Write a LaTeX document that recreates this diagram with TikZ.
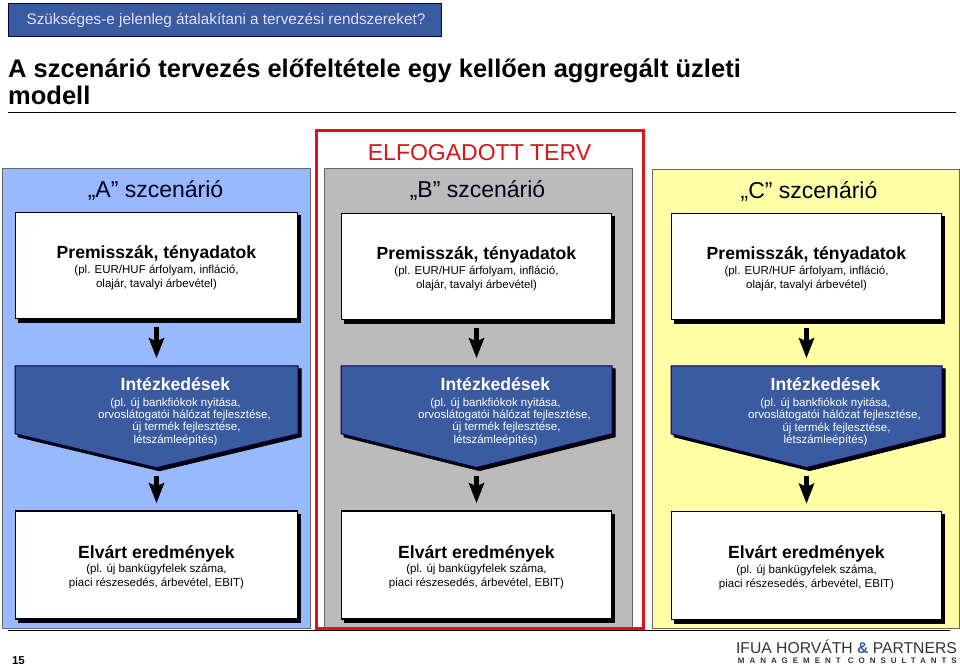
\documentclass[tikz,border=0pt]{standalone}
\usepackage{fontspec}
\setmainfont{Liberation Sans}
\newfontfamily\logofont[LetterSpace=62]{Liberation Sans}
\usetikzlibrary{arrows.meta, positioning, shadows, shapes.symbols}

\definecolor{panelblue}{HTML}{99B9FF}
\definecolor{panelgrey}{HTML}{BBBBBB}
\definecolor{panelyellow}{HTML}{FFFFA6}
\definecolor{actblue}{HTML}{3A5BA0}
\definecolor{okred}{HTML}{D9141A}

\newcommand{\premtext}{\frenchspacing\rule{0pt}{17pt}{\fontsize{17.6}{18}\selectfont\bfseries Premisszák, tényadatok}\\[0.5pt]
	(pl. EUR/HUF árfolyam, infláció,\\ olajár, tavalyi árbevétel)}
\newcommand{\acttext}{\frenchspacing{\fontsize{17.6}{18}\selectfont\bfseries Intézkedések}\\[3.5pt]
	(pl. új bankfiókok nyitása,\\
	\hspace*{18pt}orvoslátogatói hálózat fejlesztése,\\
	\hspace*{22pt}új termék fejlesztése,\\
	létszámleépítés)}
\newcommand{\restext}{\frenchspacing\rule{0pt}{17pt}{\fontsize{17.6}{18}\selectfont\bfseries Elvárt eredmények}\\[0.5pt]
	(pl. új bankügyfelek száma,\\ piaci részesedés, árbevétel, EBIT)}

\begin{document}
\begin{tikzpicture} [
						x=1pt, y=-1pt,
						node distance=46pt,
						panel/.style={draw=black!60, line width=1pt, minimum width=308pt, minimum height=460pt, inner sep=0pt},
						whitebox/.style={draw=black, fill=white, line width=1.5pt, minimum width=282pt, minimum height=106pt, inner sep=0pt, align=center,
							font=\fontsize{11.5}{14}\selectfont, copy shadow={shadow xshift=3pt, shadow yshift=-3.5pt, fill=black, draw=black}},
						actbox/.style={signal, signal to=south, signal pointer angle=153, draw=black!70!blue, fill=actblue, line width=1pt,
							minimum width=283pt, minimum height=68pt, inner sep=0pt, copy shadow={shadow xshift=3pt, shadow yshift=-3pt, fill=black, draw=black}},
						acttxt/.style={text=white, align=center, inner sep=0pt, font=\fontsize{11.5}{12.3}\selectfont},
						scenhead/.style={font=\fontsize{23}{28}\selectfont, text=black!90!blue},
						blockarrow/.style={draw=black, line width=4.5pt, -{Stealth[length=20pt, width=15pt, inset=3pt]}, shorten <=8pt, shorten >=7pt}
					]

\useasboundingbox (0,0) rectangle (960,666);

% question and title
\node (question) [draw=black!70!blue, fill=actblue, line width=1pt, minimum width=433pt, minimum height=33pt, inner sep=0pt,
	text=white!88!blue, font=\fontsize{15.3}{18}\selectfont] at (225,20.5) {\hspace*{2pt}Szükséges-e jelenleg átalakítani a tervezési rendszereket?};
\node (title) [anchor=north west, inner sep=0pt, align=left, font=\fontsize{25.5}{27.5}\selectfont\bfseries] at (8,58.5)
	{A szcenárió tervezés előfeltétele egy kellően aggregált üzleti\\ modell};
\coordinate (ruleL) at (8,113);
\coordinate (ruleR) at (956,113);
\draw [line width=1pt] (ruleL) -- (ruleR);

% panels
\node (panelA) [panel, fill=panelblue] at (156,398) {};
\node (panelB) [panel, fill=panelgrey] at (478,398) {};
\node (panelC) [panel, fill=panelyellow, minimum width=307pt, minimum height=459pt] at (805.5,398.5) {};

\node (accepted) [draw=okred, line width=3pt, minimum width=327pt, minimum height=498pt, inner sep=0pt] at (479.5,379.5) {};
\node (acceptedtxt) [text=okred, font=\fontsize{23}{28}\selectfont] at (479.5,153) {ELFOGADOTT TERV};

\node (headA) [scenhead] at (155.5,191) {„A” szcenárió};
\node (headB) [scenhead] at (477.5,191) {„B” szcenárió};
\node (headC) [scenhead] at (809,192) {„C” szcenárió};

% column A
\node (premA) [whitebox] at (156.5,265.5) {\premtext};
\node (actA) [actbox, below=46pt of premA] {};
\node (actAtxt) [acttxt, below=12pt of actA.north, xshift=19pt] {\acttext};
\node (resA) [whitebox, minimum height=108pt] at (156.5,565) {\restext};

% column B
\node (premB) [whitebox, minimum width=270pt] at (476.5,266.5) {\premtext};
\node (actB) [actbox, minimum width=271pt, signal pointer angle=152, below=45pt of premB] {};
\node (actBtxt) [acttxt, below=12pt of actB.north, xshift=19pt] {\acttext};
\node (resB) [whitebox, minimum width=270pt, minimum height=108pt] at (476.5,565) {\restext};

% column C
\node (premC) [whitebox, minimum width=270pt] at (806.5,266.5) {\premtext};
\node (actC) [actbox, minimum width=271pt, signal pointer angle=152, below=45pt of premC] {};
\node (actCtxt) [acttxt, below=12.5pt of actC.north, xshift=19pt] {\acttext};
\node (resC) [whitebox, minimum width=270pt, minimum height=108pt] at (806.5,565.5) {\restext};

\path[blockarrow]
	(premA) edge (actA)
	(actA) edge (resA)
	(premB) edge (actB)
	(actB) edge (resB)
	(premC) edge (actC)
	(actC) edge (resC);

% footer
\coordinate (footL) at (8,630);
\coordinate (footR) at (950,630);
\draw [line width=1pt] (footL) -- (footR);
\node (pagenum) [inner sep=0pt, font=\fontsize{11.5}{13}\selectfont\bfseries] at (18.5,661) {15};
\node (logo) [anchor=east, inner sep=0pt, text=black!80, font=\fontsize{15.7}{17}\selectfont] at (957,647)
	{IFUA HORVÁTH \textcolor{actblue}{\textbf{\&}} PARTNERS};
\node (logosub) [anchor=east, inner sep=0pt, text=black!80, font=\logofont\fontsize{8}{9}\selectfont\bfseries] at (957,661)
	{MANAGEMENT CONSULTANTS};

\end{tikzpicture}
\end{document}
